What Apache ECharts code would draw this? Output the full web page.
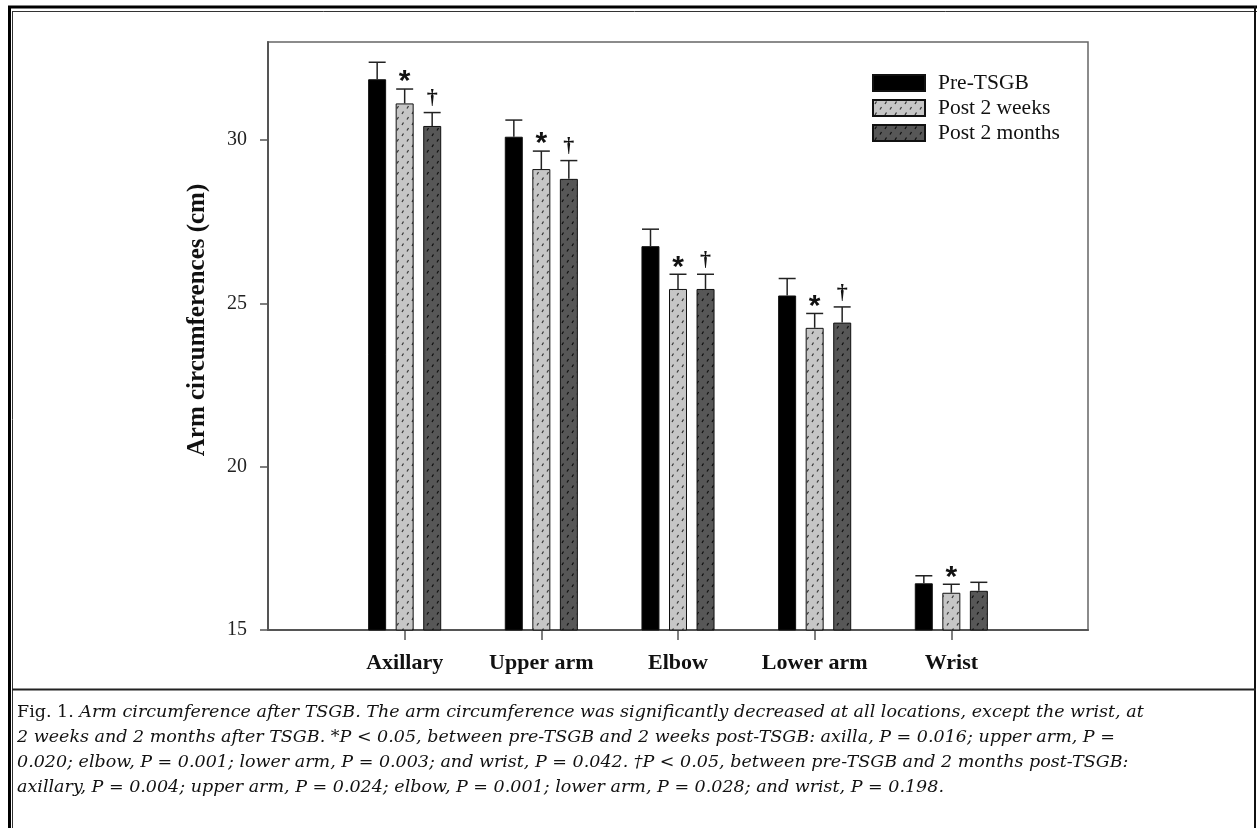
<!DOCTYPE html>
<html>
<head>
<meta charset="utf-8">
<script src="https://cdn.jsdelivr.net/npm/echarts@6/dist/echarts.min.js"></script>
<style>
html, body { margin: 0; padding: 0; background: #fff; }
#chart { width: 1257px; height: 828px; }
</style>
</head>
<body>
<div id="chart"></div>
<script>
// data (empty slots at both ends give the side padding)
const categories = ['', 'Axillary', 'Upper arm', 'Elbow', 'Lower arm', 'Wrist', '']
const seriesNames = ['Pre-TSGB', 'Post 2 weeks', 'Post 2 months']
const preTSGB = [null, 31.86, 30.10, 26.75, 25.24, 16.43, null]
const post2w = [null, 31.12, 29.11, 25.44, 24.25, 16.14, null]
const post2m = [null, 30.43, 28.81, 25.44, 24.41, 16.20, null]
const preErr = [null, 0.52, 0.51, 0.52, 0.52, 0.23, null]
const post2wErr = [null, 0.44, 0.55, 0.45, 0.44, 0.26, null]
const post2mErr = [null, 0.41, 0.56, 0.45, 0.48, 0.26, null]
const post2wMark = ['', '*', '*', '*', '*', '*', '']
const post2mMark = ['', '†', '†', '†', '†', '', '']
const yTicks = [15, 20, 25, 30]
const captionLines = [
  '{n|Fig. 1. }{i|Arm circumference after TSGB. The arm circumference was significantly decreased at all locations, except the wrist, at}',
  '{i|2 weeks and 2 months after TSGB. *P < 0.05, between pre-TSGB and 2 weeks post-TSGB: axilla, P = 0.016; upper arm, P =}',
  '{i|0.020; elbow, P = 0.001; lower arm, P = 0.003; and wrist, P = 0.042. †P < 0.05, between pre-TSGB and 2 months post-TSGB:}',
  '{i|axillary, P = 0.004; upper arm, P = 0.024; elbow, P = 0.001; lower arm, P = 0.028; and wrist, P = 0.198.}'
]

const serif = '"Liberation Serif", "Times New Roman", serif'
const capSerif = '"DejaVu Serif", serif'
const BAR_W = 18
const BAR_STEP = 27.5

function makePattern(bg, fg) {
  const c = document.createElement('canvas')
  c.width = 10
  c.height = 11
  const g = c.getContext('2d')
  g.fillStyle = bg
  g.fillRect(0, 0, 10, 11)
  g.strokeStyle = fg
  g.lineWidth = 1.3
  g.beginPath()
  g.moveTo(2, 4); g.lineTo(3.5, 1.5)
  g.moveTo(7, 9.5); g.lineTo(8.5, 7)
  g.stroke()
  return c
}

const lightFill = { image: makePattern('#c6c6c6', '#3a3a3a'), repeat: 'repeat' }
const darkFill = { image: makePattern('#575757', '#111'), repeat: 'repeat' }

function barSeries(name, values, fill) {
  return {
    name: name,
    type: 'bar',
    barWidth: BAR_W,
    barGap: '53%',
    data: values,
    itemStyle: { color: fill, borderColor: '#111', borderWidth: 1 },
    z: 2
  }
}

function errSeries(values, errs, marks, shift) {
  const data = []
  values.forEach((v, i) => {
    if (v != null) data.push([i, v, errs[i]])
  })
  return {
    type: 'custom',
    data: data,
    z: 3,
    silent: true,
    renderItem: (params, api) => {
      const base = api.coord([api.value(0), api.value(1)])
      const top = api.coord([api.value(0), api.value(1) + api.value(2)])
      const x = base[0] + shift
      const mark = marks ? marks[api.value(0)] : ''
      const children = [
        { type: 'line', shape: { x1: x, y1: base[1], x2: x, y2: top[1] }, style: { stroke: '#222', lineWidth: 1.5 } },
        { type: 'line', shape: { x1: x - 8.5, y1: top[1], x2: x + 8.5, y2: top[1] }, style: { stroke: '#222', lineWidth: 1.5 } }
      ]
      if (mark === '*') {
        children.push({ type: 'text', x: x, y: top[1] - 7, style: { text: '*', align: 'center', verticalAlign: 'middle', font: 'bold 30px "Liberation Sans", Arial, sans-serif', fill: '#111' } })
      } else if (mark) {
        children.push({ type: 'text', x: x, y: top[1] - 14, style: { text: mark, align: 'center', verticalAlign: 'middle', font: 'bold 22px ' + serif, fill: '#111' } })
      }
      return { type: 'group', children: children }
    }
  }
}

const frame = [
  [9.5, 6, 9.5, 828, 3, '#000'],
  [8, 7, 1257, 7, 3, '#000'],
  [12.5, 11, 12.5, 828, 1, '#333'],
  [12, 11.5, 1257, 11.5, 1, '#333'],
  [1255, 6, 1255, 828, 2, '#111'],
  [12, 689.5, 1256, 689.5, 2, '#222']
].map(l => ({
  type: 'line',
  shape: { x1: l[0], y1: l[1], x2: l[2], y2: l[3] },
  style: { stroke: l[5], lineWidth: l[4] },
  z: 10
}))

const caption = captionLines.map((t, i) => ({
  type: 'text',
  x: 17,
  y: 712 + i * 25,
  style: {
    text: t,
    verticalAlign: 'middle',
    fill: '#111',
    rich: {
      n: { fontFamily: capSerif, fontSize: 17.5, fontStyle: 'normal', fill: '#111' },
      i: { fontFamily: capSerif, fontSize: 17.5, fontStyle: 'italic', fill: '#111' }
    }
  }
}))

const option = {
  animation: false,
  backgroundColor: '#fff',
  grid: {
    left: 268, right: 169, top: 42, bottom: 198,
    show: true, borderColor: '#666', borderWidth: 1.5
  },
  legend: {
    data: seriesNames,
    orient: 'vertical',
    left: 872,
    top: 72,
    padding: 0,
    itemWidth: 52,
    itemHeight: 16,
    itemGap: 3,
    icon: 'rect',
    selectedMode: false,
    textStyle: { fontFamily: serif, fontSize: 21.5, color: '#111', padding: [0, 0, 0, 8] }
  },
  xAxis: {
    type: 'category',
    data: categories,
    boundaryGap: false,
    axisLine: { lineStyle: { color: '#555', width: 2 } },
    axisTick: { length: 10, interval: (i) => i > 0 && i < categories.length - 1, lineStyle: { color: '#555', width: 1.5 } },
    axisLabel: { interval: 0, margin: 22, fontFamily: serif, fontWeight: 'bold', fontSize: 22, color: '#111' },
    splitLine: { show: false }
  },
  yAxis: {
    type: 'value',
    min: 15,
    max: 33,
    interval: 5,
    axisLine: { show: true, lineStyle: { color: '#555', width: 2 } },
    axisTick: { show: true, length: 8, customValues: yTicks, lineStyle: { color: '#555', width: 1.5 } },
    axisLabel: { customValues: yTicks, margin: 21, fontFamily: serif, fontSize: 20, color: '#222' },
    splitLine: { show: false }
  },
  graphic: [
    {
      type: 'text',
      x: 198,
      y: 320,
      rotation: Math.PI / 2,
      style: { text: 'Arm circumferences (cm)', align: 'center', verticalAlign: 'middle', font: 'bold 25px ' + serif, fill: '#111' }
    }
  ].concat(caption, frame),
  series: [
    barSeries(seriesNames[0], preTSGB, '#000'),
    barSeries(seriesNames[1], post2w, lightFill),
    barSeries(seriesNames[2], post2m, darkFill),
    errSeries(preTSGB, preErr, null, -BAR_STEP),
    errSeries(post2w, post2wErr, post2wMark, 0),
    errSeries(post2m, post2mErr, post2mMark, BAR_STEP)
  ]
}

const myChart = echarts.init(document.getElementById('chart'))
myChart.setOption(option)
</script>
</body>
</html>
